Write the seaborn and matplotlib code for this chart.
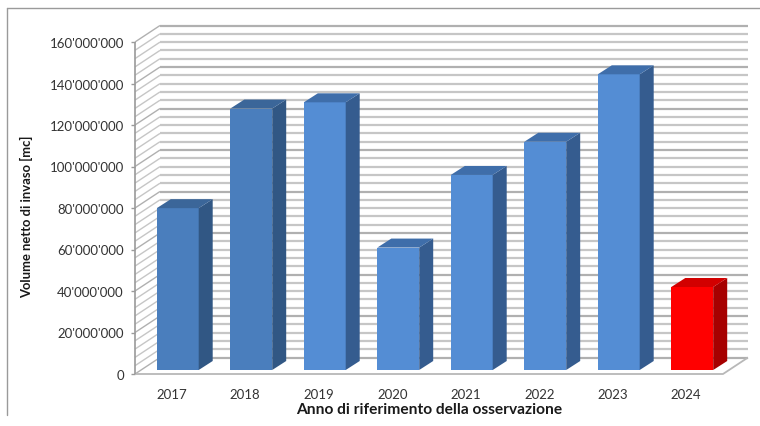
import numpy as np
import pandas as pd
import matplotlib
matplotlib.use("Agg")
import matplotlib.pyplot as plt
from matplotlib.patches import Polygon
from matplotlib.lines import Line2D
from matplotlib.ticker import FuncFormatter, MultipleLocator
import seaborn as sns

# ---- data ----
years = ["2017", "2018", "2019", "2020", "2021", "2022", "2023", "2024"]
volumes = [78_000_000, 126_000_000, 129_000_000, 59_000_000,
           94_000_000, 110_000_000, 142_500_000, 40_000_000]
front_colors = ["#4a7ebd", "#4a7ebd", "#548dd4", "#548dd4",
                "#548dd4", "#548dd4", "#548dd4", "#ff0000"]
top_colors = ["#3b6699", "#3b6699", "#3f6eaa", "#3f6eaa",
              "#3f6eaa", "#3f6eaa", "#3f6eaa", "#d20000"]
side_colors = ["#315784", "#315784", "#355c8f", "#355c8f",
               "#355c8f", "#355c8f", "#355c8f", "#a60000"]

y_max = 160_000_000
y_major = 20_000_000
y_minor = 4_000_000

df = pd.DataFrame({"anno": years, "volume": volumes})

sns.set_theme(style="white")
plt.rcParams["font.family"] = ["Lato", "DejaVu Sans"]

W, H, DPI = 760, 427, 100
fig = plt.figure(figsize=(W / DPI, H / DPI), dpi=DPI)
fig.patch.set_facecolor("white")

# front plane of the 3-D box (pixel geometry)
x0_px, x1_px, y0_px, ytop_px = 135, 723, 375, 43
ax_w_px, ax_h_px = x1_px - x0_px, y0_px - ytop_px
ax = fig.add_axes([x0_px / W, (H - y0_px) / H, ax_w_px / W, ax_h_px / H])
ax.set_xlim(-0.5, len(years) - 0.5)
ax.set_ylim(0, y_max)
ax.set_facecolor("none")
for s in ax.spines.values():
    s.set_visible(False)

# depth vectors in pixels
WALL = (25, 16.5)     # front plane -> back wall
BAR_OFF = (6, 4)      # front plane -> bar front face
BAR_DEPTH = (14, 9)   # bar front face -> bar back face


def shift(x, y, d):
    p = ax.transData.transform((x, y))
    return ax.transData.inverted().transform((p[0] + d[0], p[1] + d[1]))


xl, xr = -0.5, len(years) - 0.5
grid_kw = dict(clip_on=False, solid_capstyle="butt")

# back wall and left wall gridlines
for v in np.arange(0, y_max + 1, y_minor):
    major = (v % y_major) == 0
    col = "#b0b0b0" if major else "#c6c6c6"
    bl = shift(xl, v, WALL)
    br = shift(xr, v, WALL)
    ax.add_line(Line2D([bl[0], br[0]], [bl[1], br[1]], color=col, lw=1.6,
                       zorder=0.5, **grid_kw))
    ax.add_line(Line2D([xl, bl[0]], [v, bl[1]], color=col, lw=1.0,
                       zorder=0.6, **grid_kw))

# floor outline
fl_back_r = shift(xr, 0, WALL)
ax.add_line(Line2D([xl, xr, fl_back_r[0]], [0, 0, fl_back_r[1]],
                   color="#b8b8b8", lw=1.3, zorder=1, **grid_kw))

# front vertical axis with ticks
ax.add_line(Line2D([xl, xl], [0, y_max], color="#9a9a9a", lw=1.2,
                   zorder=1, **grid_kw))
ax.yaxis.set_major_locator(MultipleLocator(y_major))
ax.yaxis.set_major_formatter(
    FuncFormatter(lambda v, _: f"{v:,.0f}".replace(",", "'")))
ax.tick_params(axis="y", left=True, length=3, width=1, color="#9a9a9a",
               labelsize=9.5, labelcolor="#333333", pad=5)
ax.tick_params(axis="x", bottom=False, labelsize=9.5, labelcolor="#333333",
               pad=4)

# bar front faces
sns.barplot(data=df, x="anno", y="volume", hue="anno", palette=front_colors,
            width=0.57, legend=False, ax=ax, saturation=1, linewidth=0,
            zorder=3)

for patch, top_c, side_c in zip(ax.patches, top_colors, side_colors):
    bx, bw, bh = patch.get_x(), patch.get_width(), patch.get_height()
    fl = shift(bx, 0, BAR_OFF)
    fr = shift(bx + bw, 0, BAR_OFF)
    tl = shift(bx, bh, BAR_OFF)
    tr = shift(bx + bw, bh, BAR_OFF)
    patch.set_x(fl[0])
    patch.set_y(fl[1])
    patch.set_clip_on(False)
    d = lambda p: shift(p[0], p[1], BAR_DEPTH)
    side = Polygon([fr, tr, d(tr), d(fr)], closed=True, facecolor=side_c,
                   edgecolor="none", zorder=3, clip_on=False)
    top = Polygon([tl, tr, d(tr), d(tl)], closed=True, facecolor=top_c,
                  edgecolor="none", zorder=3, clip_on=False)
    ax.add_patch(side)
    ax.add_patch(top)

ax.set_xlabel("Anno di riferimento della osservazione", fontsize=11.2,
              fontweight="bold", color="#1a1a1a", va="center")
ax.xaxis.set_label_coords(0.5, -35 / ax_h_px)
ax.set_ylabel("Volume netto di invaso [mc]", fontsize=9.4,
              fontweight="bold", color="#1a1a1a", va="center")
ax.yaxis.set_label_coords((27 - x0_px) / ax_w_px, (y0_px - 217) / ax_h_px)

# chart frame
fig.add_artist(Line2D([7 / W, 7 / W], [1 - 9 / H, 1 - 416 / H],
                      color="#9a9a9a", lw=1.0, transform=fig.transFigure))
fig.add_artist(Line2D([7 / W, 1], [1 - 9 / H, 1 - 9 / H],
                      color="#9a9a9a", lw=1.0, transform=fig.transFigure))

fig.savefig("out.png", dpi=DPI, facecolor="white")
